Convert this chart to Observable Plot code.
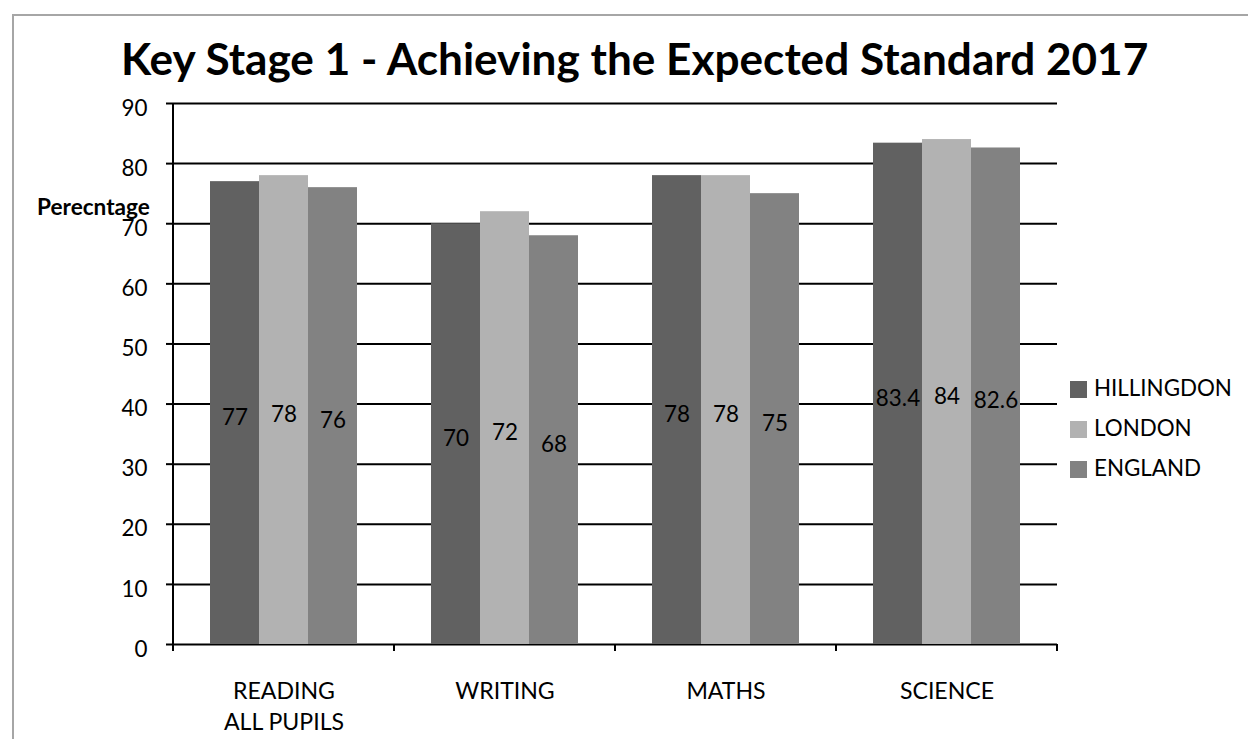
<!DOCTYPE html>
<html>
<head>
<meta charset="utf-8">
<script src="https://cdn.jsdelivr.net/npm/d3@7"></script>
<script src="https://cdn.jsdelivr.net/npm/@observablehq/plot@0.6"></script>
<style>
  body { margin: 0; background: #fff; font-family: Lato, sans-serif; }
  #wrap { position: relative; width: 1248px; height: 739px; overflow: hidden; background: #fff; }
  #border { position: absolute; left: 12px; top: 14px; width: 1400px; height: 900px;
            border-left: 2px solid #a6a6a6; border-top: 2px solid #a6a6a6; }
  .abs { position: absolute; white-space: nowrap; line-height: 1; color: #000; }
  #chart { position: absolute; left: 0; top: 88px; }
</style>
</head>
<body>
<div id="wrap">
  <div id="border"></div>
  <div id="chart"></div>
</div>
<script>
// ---- data ----
const titleText = "Key Stage 1 - Achieving the Expected Standard 2017";
const yLabel = "Perecntage";
const categories = ["READING\nALL PUPILS", "WRITING", "MATHS", "SCIENCE"];
const series = ["HILLINGDON", "LONDON", "ENGLAND"];
const hillingdon = [77, 70, 78, 83.4];
const london = [78, 72, 78, 84];
const england = [76, 68, 75, 82.6];
const yTicks = [0, 10, 20, 30, 40, 50, 60, 70, 80, 90];
const colors = ["#616161", "#b2b2b2", "#828282"];

const valuesBySeries = [hillingdon, london, england];
const rows = categories.flatMap((c, i) =>
  series.map((s, j) => ({subject: c, area: s, value: valuesBySeries[j][i]})));

// ---- font fitting helper ----
const ctx = document.createElement("canvas").getContext("2d");
function fit(text, weight, target) {
  ctx.font = `${weight} 100px Lato`;
  return 100 * target / ctx.measureText(text).width;
}
const titleSize = fit(titleText, "bold", 1030);
const tickSize = fit("90", "normal", 26);
const catSize = fit("READING", "normal", 102);
const legendSize = fit("HILLINGDON", "normal", 138);
const yLabSize = fit(yLabel, "bold", 113);

const wrap = document.getElementById("wrap");
function addText(txt, size, weight, left, capCenter) {
  const d = document.createElement("div");
  d.className = "abs";
  d.textContent = txt;
  d.style.fontSize = size + "px";
  d.style.fontWeight = weight;
  const baseline = capCenter + 0.358 * size;
  d.style.top = (baseline - 0.887 * size) + "px";
  d.style.left = left + "px";
  wrap.appendChild(d);
  return d;
}

// title
addText(titleText, titleSize, "bold", 121, 59);
// y label
addText(yLabel, yLabSize, "bold", 37, 208);

// ---- chart ----
const plot = Plot.plot({
  width: 1248,
  height: 651,
  marginTop: 15,
  marginBottom: 95,
  marginLeft: 173,
  marginRight: 191,
  style: {fontFamily: "Lato, sans-serif", fontSize: tickSize + "px", color: "black", background: "transparent", overflow: "visible"},
  fx: {domain: categories, padding: 0, label: null},
  x: {domain: series, paddingInner: 0, paddingOuter: 0.73, axis: null},
  y: {domain: [0, 90], axis: null},
  color: {domain: series, range: colors},
  marks: [
    Plot.ruleY(yTicks, {stroke: "black", strokeWidth: 2}),
    Plot.barY(rows, {fx: "subject", x: "area", y: "value", fill: "area"}),
    Plot.text(rows, {fx: "subject", x: "area", y: d => d.value / 2, text: d => String(d.value),
                     dy: 5, fontSize: tickSize, fill: "black"}),
    Plot.axisY(yTicks, {anchor: "left", tickSize: 7, fill: "none", stroke: "black", strokeWidth: 2, label: null}),
    Plot.axisY(yTicks, {anchor: "left", tickSize: 7, tickPadding: 19, stroke: "none", dy: 5,
                        fontSize: tickSize, fill: "black", label: null}),
    Plot.axisFx({anchor: "bottom", tickSize: 0, tickPadding: 32, fontSize: catSize, lineHeight: 1.36,
                 fill: "black", label: null})
  ]
});
document.getElementById("chart").appendChild(plot);

// axis line and category boundary ticks from the library's scales
const fx = plot.scale("fx");
const y = plot.scale("y");
const svg = d3.select(plot);
const g = svg.append("g").attr("stroke", "black").attr("stroke-width", 2);
g.append("line")
  .attr("x1", fx.apply(categories[0])).attr("x2", fx.apply(categories[0]))
  .attr("y1", y.apply(90)).attr("y2", y.apply(0) + 7);
const bounds = categories.map(c => fx.apply(c)).concat([fx.apply(categories[categories.length - 1]) + fx.step]);
bounds.forEach(b => {
  g.append("line").attr("x1", b).attr("x2", b).attr("y1", y.apply(0)).attr("y2", y.apply(0) + 7);
});

// legend
const color = plot.scale("color");
series.forEach((s, i) => {
  const cy = 389 + i * 40;
  const sw = document.createElement("div");
  sw.style.cssText = `position:absolute;left:1070px;top:${cy - 8.5}px;width:17px;height:17px;background:${color.apply(s)}`;
  wrap.appendChild(sw);
  addText(s, legendSize, "normal", 1094, cy);
});
</script>
</body>
</html>
